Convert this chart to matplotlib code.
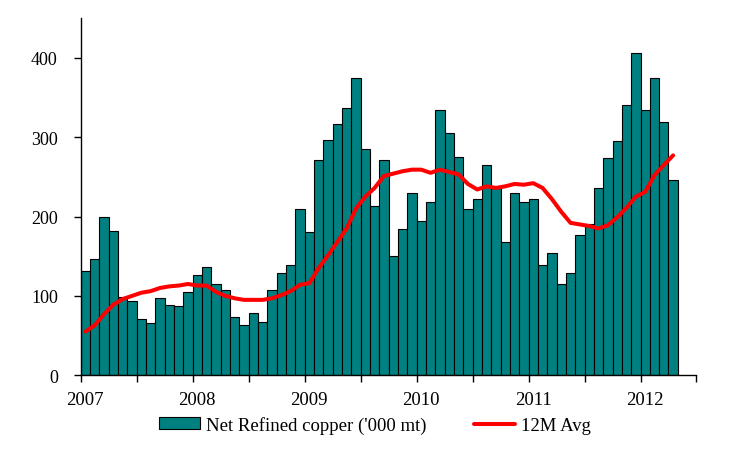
import matplotlib
matplotlib.use("Agg")
import matplotlib.pyplot as plt
import matplotlib.transforms as mtransforms
import numpy as np

# Monthly data Jan 2007 - Apr 2012
net_refined = [131, 147, 199, 182, 98, 93, 71, 66, 97, 88, 87, 105,
               126, 136, 115, 108, 74, 63, 79, 67, 108, 129, 139, 209,
               180, 271, 296, 317, 337, 375, 285, 213, 271, 150, 184, 230,
               194, 218, 334, 305, 275, 209, 222, 265, 236, 168, 230, 218,
               222, 139, 154, 115, 129, 177, 190, 236, 274, 295, 341, 406,
               334, 375, 319, 246]
avg_12m = [55, 63, 77, 89, 96, 100, 104, 106, 110, 112, 113, 115,
           113, 113, 105, 100, 97, 95, 95, 95, 97, 101, 106, 114,
           116, 135, 151, 168, 185, 210, 225, 236, 251, 254, 257, 259,
           259, 255, 259, 256, 253, 241, 234, 238, 236, 238, 241, 240,
           242, 236, 222, 206, 192, 190, 188, 185, 189, 199, 211, 225,
           231, 252, 265, 277]
year_labels = ["2007", "2008", "2009", "2010", "2011", "2012"]
bar_label = "Net Refined copper ('000 mt)"
line_label = "12M Avg"

plt.rcParams['font.family'] = ['Liberation Serif', 'DejaVu Serif']
FS = 13

fig = plt.figure(figsize=(7.35, 4.56), dpi=100)
ax = fig.add_axes([0.1098, 0.1748, 0.8378, 0.7835])

x = np.arange(len(net_refined))
bars = ax.bar(x, net_refined, width=1.0, align='edge', color='#008080',
              edgecolor='black', linewidth=0.8, label=bar_label)
line, = ax.plot(x + 0.5, avg_12m, color='#ff0000', linewidth=2.9,
                label=line_label, solid_capstyle='round',
                solid_joinstyle='round')

ax.set_xlim(0, 66)
ax.set_ylim(0, 450)
ax.set_yticks([0, 100, 200, 300, 400])
ax.set_xticks(np.arange(0, 67, 6))
ax.set_xticklabels(["" for _ in range(12)])
trans = mtransforms.blended_transform_factory(ax.transData, ax.transAxes)
for i, lab in enumerate(year_labels):
    ax.text(i * 12 + 0.5, -0.069, lab, ha='center', va='center',
            fontsize=13.5, transform=trans)

for s in ['top', 'right']:
    ax.spines[s].set_visible(False)
for s in ['left', 'bottom']:
    ax.spines[s].set_linewidth(1.0)
ax.tick_params(axis='both', direction='out', length=5, width=1.0,
               labelsize=FS, colors='black')
ax.tick_params(axis='y', pad=11.5)

fig.legend(handles=[bars, line], labels=[bar_label, line_label],
           loc='center', bbox_to_anchor=(0.510, 0.0658), ncol=2,
           frameon=False, fontsize=13.5, handlelength=2.2, handleheight=0.6,
           columnspacing=2.5, handletextpad=0.32)

fig.savefig("out.png", dpi=100)
